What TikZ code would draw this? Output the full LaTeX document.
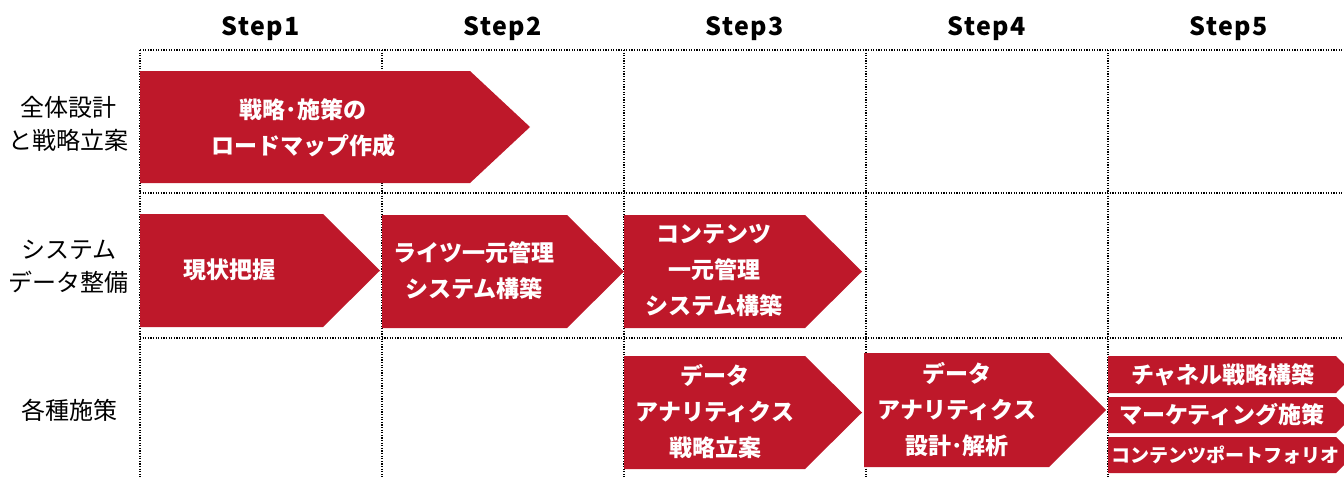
\documentclass[tikz,border=0pt]{standalone}
\usepackage{fontspec}
\newfontfamily\jp{Noto Sans CJK JP}
\newfontfamily\jpstep[LetterSpace=6]{Noto Sans CJK JP}
\definecolor{arrowred}{RGB}{190,24,42}
\tikzset{
  gridline/.style={line width=1.1pt, dash pattern=on 1.1pt off 1.5pt, black},
  armtext/.style={text=white, align=center, inner sep=0pt, font=\jp\bfseries\fontsize{23}{36}\selectfont},
  smalltext/.style={text=white, align=center, inner sep=0pt, font=\jp\bfseries\fontsize{23}{26}\selectfont},
  rowlabel/.style={text=black, align=center, inner sep=0pt, font=\jp\fontsize{24}{33}\selectfont},
  steplabel/.style={text=black, inner sep=0pt, font=\jpstep\bfseries\fontsize{25}{28}\selectfont},
}
\newcommand\redarrow[5]{\fill[arrowred] (#1,#2) -- (#3,#2) -- ({#3+#5},{(#2+#4)/2}) -- (#3,#4) -- (#1,#4) -- cycle;}
\begin{document}
\begin{tikzpicture}[x=1pt,y=-1pt]
\useasboundingbox (0,0) rectangle (1344,477);
\begin{scope}
\clip (0,0) rectangle (1344,477);
% grid
\foreach \yy in {50,193,338} \draw[gridline] (140,\yy) -- (1344,\yy);
\foreach \xx in {140,382,624,866,1108} \draw[gridline] (\xx,50) -- (\xx,477);
% step labels
\node[steplabel] (s1) at (261,29) {Step1};
\node[steplabel] (s2) at (503,29) {Step2};
\node[steplabel] (s3) at (745,29) {Step3};
\node[steplabel] (s4) at (987,29) {Step4};
\node[steplabel] (s5) at (1229,29) {Step5};
% row labels
\node[rowlabel] (r1) at (69,124) {全体設計\\と戦略立案};
\node[rowlabel] (r2) at (69,267) {システム\\データ整備};
\node[rowlabel] (r3) at (69,410) {各種施策};
% arrows
\redarrow{140}{71}{470}{183}{60}
\redarrow{140}{214}{323}{327}{57}
\redarrow{382}{215}{567}{328}{57}
\redarrow{624}{215}{805}{328}{57}
\redarrow{624}{356}{805}{469}{57}
\redarrow{864}{353}{1049}{467}{57}
\redarrow{1108}{356}{1336}{393}{18}
\redarrow{1108}{397}{1336}{433}{18}
\redarrow{1108}{437}{1336}{473}{18}
\end{scope}
% texts
\node[armtext] (a1) at (303,128) {戦略･施策の\\ロードマップ作成};
\node[armtext] (a2) at (229,270) {現状把握};
\node[armtext] (a3) at (474,271) {ライツ一元管理\\システム構築};
\node[armtext] (a4) at (714,270) {コンテンツ\\一元管理\\システム構築};
\node[armtext] (a5) at (715,412) {データ\\アナリティクス\\戦略立案};
\node[armtext] (a6) at (957,410) {データ\\アナリティクス\\設計･解析};
\node[smalltext] (b1) at (1223,375) {チャネル戦略構築};
\node[smalltext] (b2) at (1222,415) {マーケティング施策};
\node[smalltext,font=\jp\bfseries\fontsize{19}{22}\selectfont] (b3) at (1225,455) {コンテンツポートフォリオ};
\end{tikzpicture}
\end{document}
